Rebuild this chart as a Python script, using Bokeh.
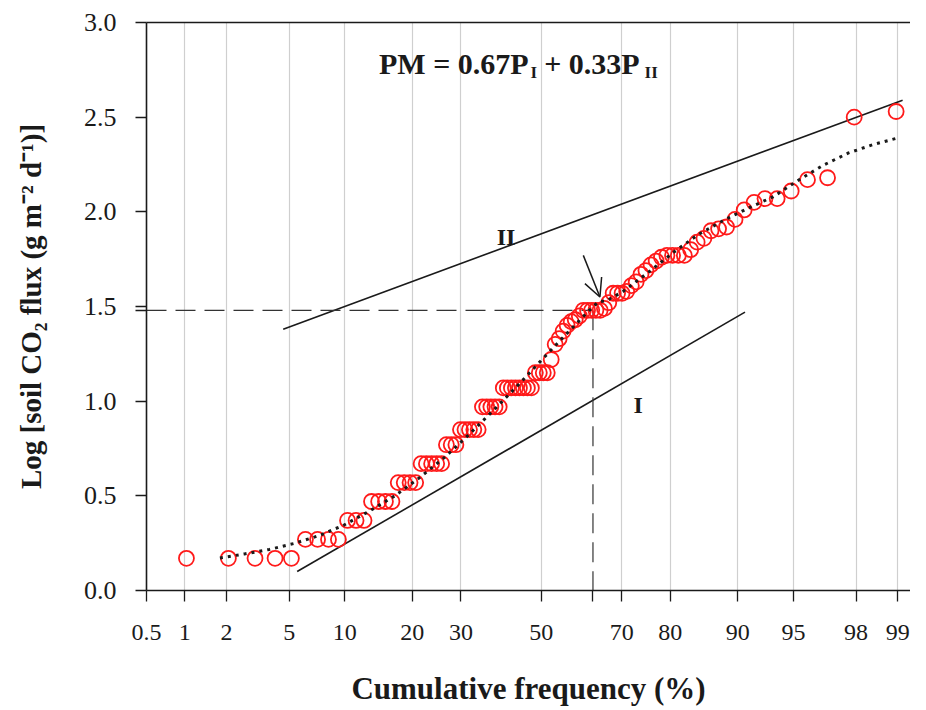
from statistics import NormalDist
from bokeh.plotting import figure
from bokeh.models import FixedTicker, LinearAxis, Label, Arrow, OpenHead, Range1d
from bokeh.embed import file_html
from bokeh.resources import INLINE

# ---------------- data ----------------
tick_pct = [0.5, 1, 2, 5, 10, 20, 30, 50, 70, 80, 90, 95, 98, 99]
tick_labels = ["0.5", "1", "2", "5", "10", "20", "30", "50", "70", "80", "90", "95", "98", "99"]
y_ticks = [0.0, 0.5, 1.0, 1.5, 2.0, 2.5, 3.0]
y_tick_labels = ["0.0", "0.5", "1.0", "1.5", "2.0", "2.5", "3.0"]

freq_pct = [
    1.03, 2.06, 3.09, 4.12, 5.15, 6.19, 7.22, 8.25, 9.28, 10.31,
    11.34, 12.37, 13.40, 14.43, 15.46, 16.49, 17.53, 18.56, 19.59, 20.62,
    21.65, 22.68, 23.71, 24.74, 25.77, 26.80, 27.84, 28.87, 29.90, 30.93,
    31.96, 32.99, 34.02, 35.05, 36.08, 37.11, 38.14, 39.18, 40.21, 41.24,
    42.27, 43.30, 44.33, 45.36, 46.39, 47.42, 48.45, 49.48, 50.52, 51.55,
    52.58, 53.61, 54.64, 55.67, 56.70, 57.73, 58.76, 59.79, 60.82, 61.86,
    62.89, 63.92, 64.95, 65.98, 67.01, 68.04, 69.07, 70.10, 71.13, 72.16,
    73.20, 74.23, 75.26, 76.29, 77.32, 78.35, 79.38, 80.41, 81.44, 82.47,
    83.51, 84.54, 85.57, 86.60, 87.63, 88.66, 89.69, 90.72, 91.75, 92.78,
    93.81, 94.85, 95.88, 96.91, 97.94, 98.97,
]
log_flux = [
    0.17, 0.17, 0.17, 0.17, 0.17,
    0.27, 0.27, 0.27, 0.27,
    0.37, 0.37, 0.37,
    0.47, 0.47, 0.47, 0.47,
    0.57, 0.57, 0.57, 0.57,
    0.67, 0.67, 0.67, 0.67, 0.67,
    0.77, 0.77, 0.77,
    0.85, 0.85, 0.85, 0.85, 0.85,
    0.97, 0.97, 0.97, 0.97, 0.97,
    1.07, 1.07, 1.07, 1.07, 1.07, 1.07, 1.07, 1.07,
    1.15, 1.15, 1.15, 1.15,
    1.22,
    1.30, 1.33, 1.37, 1.40, 1.42, 1.43, 1.45,
    1.48, 1.48, 1.48, 1.48, 1.48,
    1.49, 1.52, 1.57, 1.57, 1.57, 1.58, 1.61, 1.63, 1.67, 1.69, 1.72, 1.74,
    1.76, 1.77, 1.77, 1.77, 1.77, 1.80, 1.84, 1.86, 1.90, 1.91, 1.92, 1.96,
    2.01, 2.05, 2.07, 2.07, 2.11, 2.17, 2.18, 2.50, 2.53,
]

curve_pct = [1.80, 2.64, 3.81, 5.37, 7.40, 9.96, 13.12, 16.96, 21.30, 26.34,
             31.92, 37.95, 44.04, 50.16, 56.39, 62.45, 64.51, 66.43, 70.29, 75.68,
             80.48, 84.66, 88.20, 91.13, 93.47, 95.33, 96.72, 97.75, 98.49, 99.01]
curve_val = [0.172, 0.193, 0.217, 0.249, 0.291, 0.347, 0.420, 0.500, 0.595, 0.702,
             0.825, 0.956, 1.086, 1.219, 1.353, 1.483, 1.525, 1.530, 1.579, 1.679,
             1.784, 1.879, 1.953, 2.019, 2.079, 2.167, 2.247, 2.311, 2.356, 2.391]

line_I_pct = [5.56, 90.81]
line_I_val = [0.10, 1.47]
line_II_pct = [4.61, 99.08]
line_II_val = [1.38, 2.59]

pm_pct = 63.2      # threshold cumulative frequency
pm_val = 1.48      # threshold log flux

arrow_pct = [60.8, 64.9]
arrow_val = [1.77, 1.55]

# ---------------- helpers ----------------
nd = NormalDist()


def probit(pct):
    return nd.inv_cdf(pct / 100.0)


SERIF = "Liberation Serif"
INK = "#1a1a1a"

p = figure(width=910, height=708, output_backend="svg", toolbar_location=None,
           x_range=Range1d(probit(0.5), probit(99.2)), y_range=Range1d(0, 3.0),
           min_border_left=146, min_border_right=0, min_border_top=22, min_border_bottom=117,
           background_fill_color="white", border_fill_color="white")
p.outline_line_color = None

# x axis (probability scale)
xt = [probit(v) for v in tick_pct]
x_over = {t: lab for t, lab in zip(xt, tick_labels)}
x_over[probit(pm_pct)] = ""
p.xaxis.ticker = FixedTicker(ticks=xt + [probit(pm_pct)])
p.xaxis.major_label_overrides = x_over
p.xgrid.ticker = FixedTicker(ticks=xt)
p.xgrid.grid_line_color = "#cfcfcf"
p.xgrid.grid_line_width = 1.2
p.ygrid.visible = False

y_over = {t: lab for t, lab in zip(y_ticks, y_tick_labels)}
y_over[pm_val] = ""
p.yaxis.ticker = FixedTicker(ticks=y_ticks + [pm_val])
p.yaxis.major_label_overrides = y_over

p.xaxis.axis_label = "Cumulative frequency (%)"
p.yaxis.axis_label = "Log [soil CO\u2082 flux (g m\u207b\u00b2 d\u207b\u00b9)]"

for ax in (p.xaxis[0], p.yaxis[0]):
    ax.axis_line_color = INK
    ax.axis_line_width = 1.6
    ax.major_tick_line_color = INK
    ax.major_tick_line_width = 1.3
    ax.major_tick_out = 11
    ax.major_tick_in = 0
    ax.minor_tick_line_color = None
    ax.major_label_text_font = SERIF
    ax.major_label_text_color = INK
    ax.axis_label_text_font = SERIF
    ax.axis_label_text_font_style = "bold"
    ax.axis_label_text_color = INK

p.xaxis.major_label_text_font_size = "24px"
p.yaxis.major_label_text_font_size = "26px"
p.xaxis.axis_label_text_font_size = "31px"
p.yaxis.axis_label_text_font_size = "29px"
p.xaxis.major_label_standoff = 23
p.xaxis.axis_label_standoff = 28
p.yaxis.major_label_standoff = 19
p.yaxis.axis_label_standoff = 34

top = LinearAxis(ticker=FixedTicker(ticks=[]), axis_line_color=INK, axis_line_width=1.6,
                 major_tick_line_color=None, minor_tick_line_color=None,
                 major_label_text_font_size="0px")
p.add_layout(top, "above")

# fitted population lines I and II
p.line([probit(v) for v in line_I_pct], line_I_val, line_color=INK, line_width=1.6)
p.line([probit(v) for v in line_II_pct], line_II_val, line_color=INK, line_width=1.6)

# threshold dashed lines
xl = probit(0.5)
xp = probit(pm_pct)
p.line([xl, xp], [pm_val, pm_val], line_color="#333333", line_width=1.2, line_dash="20 9")
p.line([xp, xp], [pm_val, 0.0], line_color="#333333", line_width=1.2, line_dash="20 9")

# observed data
p.scatter([probit(v) for v in freq_pct], log_flux, marker="circle", size=15,
          fill_color=None, line_color="#ff1a1a", line_width=1.8)

# mixture curve (dotted)
p.line([probit(v) for v in curve_pct], curve_val, line_color=INK, line_width=3,
       line_dash="3 5")

# arrow
p.add_layout(Arrow(end=OpenHead(size=18, line_width=1.5, line_color=INK),
                   x_start=probit(arrow_pct[0]), y_start=arrow_val[0],
                   x_end=probit(arrow_pct[1]), y_end=arrow_val[1],
                   line_width=1.5, line_color=INK))

# labels
lab_kw = dict(text_font=SERIF, text_font_style="bold", text_color=INK,
              text_baseline="alphabetic")
p.add_layout(Label(x=probit(46.70), y=2.785, text="PM = 0.67P", text_font_size="30px",
                   text_align="right", **lab_kw))
p.add_layout(Label(x=probit(47.22), y=2.738, text="I", text_font_size="17px",
                   text_align="left", **lab_kw))
p.add_layout(Label(x=probit(73.94), y=2.785, text="+ 0.33P", text_font_size="30px",
                   text_align="right", **lab_kw))
p.add_layout(Label(x=probit(74.99), y=2.738, text="II", text_font_size="17px",
                   text_align="left", **lab_kw))
p.add_layout(Label(x=probit(40.91), y=1.8645, text="II", text_font_size="24px",
                   text_align="center", **lab_kw))
p.add_layout(Label(x=probit(73.63), y=0.9805, text="I", text_font_size="24px",
                   text_align="center", **lab_kw))

open("out.html", "w").write(file_html(p, INLINE))
